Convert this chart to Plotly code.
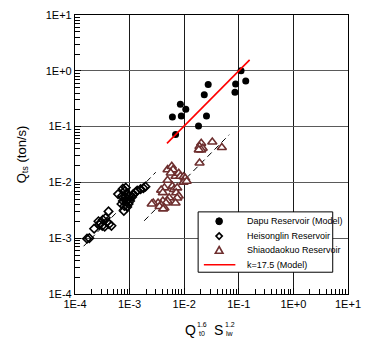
import plotly.graph_objects as go

# Dapu Reservoir (model) observations
dapu_x = [0.00695, 0.00608, 0.00885, 0.00851, 0.0107, 0.0183, 0.0256, 0.0233,
          0.0275, 0.0851, 0.0875, 0.110, 0.134]
dapu_y = [0.0724, 0.149, 0.155, 0.251, 0.204, 0.102, 0.155, 0.371,
          0.567, 0.414, 0.581, 1.00, 0.656]

# Heisonglin Reservoir
heis_x = [1.66e-4, 1.83e-4, 2.24e-4, 2.69e-4, 2.92e-4, 2.80e-4, 3.16e-4, 3.50e-4,
          3.64e-4, 4.11e-4, 3.87e-4, 4.20e-4, 4.65e-4, 3.23e-4, 6.15e-4, 7.10e-4,
          7.53e-4, 8.02e-4, 7.85e-4, 7.53e-4, 8.51e-4, 8.17e-4, 8.85e-4, 8.34e-4,
          9.23e-4, 8.69e-4, 9.59e-4, 9.04e-4, 9.79e-4, 1.02e-3, 1.11e-3, 1.17e-3,
          1.30e-3, 1.38e-3, 1.59e-3, 1.79e-3, 1.95e-3, 7.25e-4]
heis_y = [9.8e-4, 1.00e-3, 1.48e-3, 2.01e-3, 1.89e-3, 1.74e-3, 1.67e-3, 1.61e-3,
          2.32e-3, 3.02e-3, 1.97e-3, 1.78e-3, 1.67e-3, 2.14e-3, 6.18e-3, 4.10e-3,
          4.64e-3, 3.78e-3, 3.08e-3, 7.73e-3, 8.05e-3, 6.98e-3, 6.18e-3, 5.47e-3,
          5.04e-3, 4.46e-3, 4.10e-3, 3.63e-3, 5.69e-3, 4.64e-3, 5.47e-3, 6.18e-3,
          6.70e-3, 7.13e-3, 7.57e-3, 7.89e-3, 8.39e-3, 5.69e-3]

# Shiaodaokuo Reservoir
shia_x = [4.96e-3, 5.92e-3, 6.24e-3, 5.67e-3, 6.95e-3, 7.94e-3, 8.51e-3, 9.73e-3,
          0.0104, 9.73e-3, 0.0111, 4.96e-3, 4.34e-3, 3.79e-3, 4.06e-3, 6.08e-3,
          6.49e-3, 7.45e-3, 7.14e-3, 7.94e-3, 7.45e-3, 5.31e-3, 4.96e-3, 4.06e-3,
          4.64e-3, 3.32e-3, 2.71e-3, 6.95e-3, 2.54e-3, 3.79e-3, 4.34e-3, 3.54e-3,
          0.0205, 0.0191, 0.0218, 0.0205, 0.0185, 0.0327, 0.0489, 0.0191, 4.11e-3]
shia_y = [0.0169, 0.0194, 0.0169, 0.0147, 0.0129, 0.0146, 0.0129, 0.0126,
          0.0119, 0.0101, 0.0105, 0.0109, 7.98e-3, 7.28e-3, 6.56e-3, 8.57e-3,
          7.48e-3, 7.98e-3, 6.52e-3, 5.69e-3, 5.25e-3, 5.31e-3, 4.64e-3, 4.64e-3,
          4.28e-3, 4.28e-3, 4.28e-3, 4.28e-3, 4.10e-3, 3.94e-3, 3.49e-3, 3.71e-3,
          0.0501, 0.0438, 0.0409, 0.0383, 0.0383, 0.0531, 0.0421, 0.0223, 3.35e-3]

# Model line k=17.5
model_x = [0.00483, 0.158]
model_y = [0.0501, 1.57]

# Fitted trend lines (dashed)
heis_fit_x = [1.44e-4, 3.01e-3]
heis_fit_y = [7.18e-4, 0.0152]
shia_fit_x = [1.85e-3, 0.0668]
shia_fit_y = [2.05e-3, 0.0716]

tick_vals = [1e-4, 1e-3, 1e-2, 1e-1, 1e0, 1e1]
tick_text = ["1E-4", "1E-3", "1E-2", "1E-1", "1E+0", "1E+1"]

legend_labels = ["Dapu Reservoir (Model)", "Heisonglin Reservoir",
                 "Shiaodaokuo Reservoir", "k=17.5 (Model)"]

FONT = "Arial, Liberation Sans, sans-serif"
W, H = 370, 341
L, R, T, B = 75, 9, 12, 47
PW, PH = W - L - R, H - T - B

TRI_COLOR = "#6e2f2f"

fig = go.Figure()

for fx, fy in [(heis_fit_x, heis_fit_y), (shia_fit_x, shia_fit_y)]:
    fig.add_trace(go.Scatter(x=fx, y=fy, mode="lines", showlegend=False,
                             line=dict(color="black", width=1, dash="6px,4px"),
                             hoverinfo="skip"))

fig.add_trace(go.Scatter(x=dapu_x, y=dapu_y, mode="markers",
                         name=legend_labels[0], showlegend=False,
                         marker=dict(symbol="circle", size=7, color="black")))
fig.add_trace(go.Scatter(x=heis_x, y=heis_y, mode="markers",
                         name=legend_labels[1], showlegend=False,
                         marker=dict(symbol="diamond-open", size=6.5, color="black",
                                     line=dict(width=1.6))))
fig.add_trace(go.Scatter(x=shia_x, y=shia_y, mode="markers",
                         name=legend_labels[2], showlegend=False,
                         marker=dict(symbol="triangle-up", size=8, color="white",
                                     line=dict(color=TRI_COLOR, width=1.6))))
fig.add_trace(go.Scatter(x=model_x, y=model_y, mode="lines",
                         name=legend_labels[3], showlegend=False,
                         line=dict(color="red", width=1.6)))

axis_common = dict(
    type="log", range=[-4, 1],
    tickvals=tick_vals, ticktext=tick_text,
    showline=True, linecolor="black", linewidth=1.2, mirror=True,
    showgrid=True, gridwidth=1,
    ticks="inside", ticklen=6, tickcolor="black",
    minor=dict(ticks="inside", ticklen=5, tickcolor="black", dtick="D1",
               showgrid=False),
    zeroline=False, ticklabeloverflow="allow",
    tickfont=dict(family=FONT, size=11, color="black"),
)

fig.update_xaxes(**axis_common, gridcolor="#1a1a1a")
fig.update_yaxes(**axis_common, gridcolor="#5a5a5a",
                 title=dict(text="Q<sub>ts</sub> (ton/s)",
                            font=dict(family=FONT, size=13, color="black"),
                            standoff=16))


def px_to_paper(px, py):
    return (px - L) / PW, (H - B - py) / PH


# x-axis title with stacked super/subscripts
title_parts = [
    ("Q", 196, 330, 14),
    ("1.6", 208.5, 325, 7),
    ("t0", 208.5, 334, 7),
    ("S", 225, 330, 14),
    ("1.2", 237.5, 325, 7),
    ("lw", 237.5, 334, 7),
]
for txt, px, py, sz in title_parts:
    xp, yp = px_to_paper(px, py)
    fig.add_annotation(x=xp, y=yp, xref="paper", yref="paper", text=txt,
                       showarrow=False, xanchor="center", yanchor="middle",
                       font=dict(family=FONT, size=sz, color="black"))

# Legend box drawn in paper space
shapes = []
bx0, by0 = px_to_paper(204, 272)
bx1, by1 = px_to_paper(345, 211)
shapes.append(dict(type="rect", xref="paper", yref="paper",
                   x0=bx0, y0=by0, x1=bx1, y1=by1,
                   fillcolor="white", line=dict(color="black", width=1),
                   layer="above"))

row_y = [220.5, 235.5, 250, 264.5]
sym_x = 226
text_x = 253


def path_paper(points):
    pts = [px_to_paper(px, py) for px, py in points]
    return "M " + " L ".join(f"{x:.5f},{y:.5f}" for x, y in pts) + " Z"


# circle
cx0, cy0 = px_to_paper(sym_x - 3.5, row_y[0] + 3.5)
cx1, cy1 = px_to_paper(sym_x + 3.5, row_y[0] - 3.5)
shapes.append(dict(type="circle", xref="paper", yref="paper",
                   x0=cx0, y0=cy0, x1=cx1, y1=cy1,
                   fillcolor="black", line=dict(color="black", width=1),
                   layer="above"))
# diamond
d = 3.3
shapes.append(dict(type="path", xref="paper", yref="paper",
                   path=path_paper([(sym_x, row_y[1] - d), (sym_x + d, row_y[1]),
                                    (sym_x, row_y[1] + d), (sym_x - d, row_y[1])]),
                   fillcolor="white", line=dict(color="black", width=1.6),
                   layer="above"))
# triangle
t = 4
shapes.append(dict(type="path", xref="paper", yref="paper",
                   path=path_paper([(sym_x, row_y[2] - t), (sym_x + t, row_y[2] + t * 0.7),
                                    (sym_x - t, row_y[2] + t * 0.7)]),
                   fillcolor="white", line=dict(color=TRI_COLOR, width=1.6),
                   layer="above"))
# line
lx0, ly0 = px_to_paper(210, row_y[3])
lx1, _ = px_to_paper(243, row_y[3])
shapes.append(dict(type="line", xref="paper", yref="paper",
                   x0=lx0, y0=ly0, x1=lx1, y1=ly0,
                   line=dict(color="red", width=1.6), layer="above"))

for label, ry in zip(legend_labels, row_y):
    xp, yp = px_to_paper(text_x, ry)
    fig.add_annotation(x=xp, y=yp, xref="paper", yref="paper", text=label,
                       showarrow=False, xanchor="left", yanchor="middle",
                       font=dict(family=FONT, size=9, color="black"))

fig.update_layout(
    width=W, height=H,
    margin=dict(l=L, r=R, t=T, b=B),
    paper_bgcolor="white", plot_bgcolor="white",
    shapes=shapes,
    showlegend=False,
)

fig.write_html("out.html")
